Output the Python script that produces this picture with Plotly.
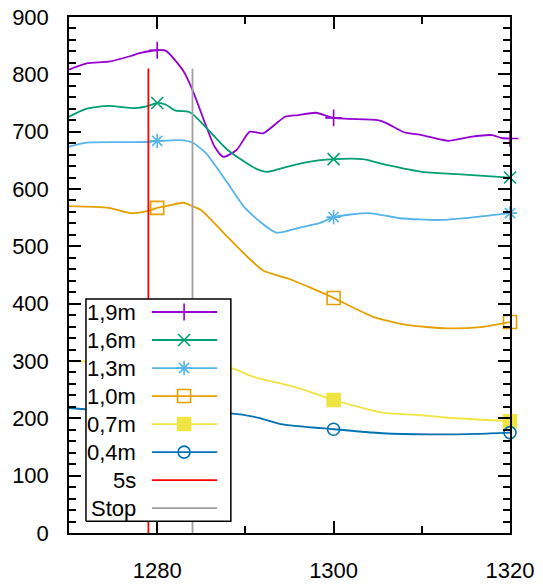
import plotly.graph_objects as go

# ---- data: probe readings against time (s) ----
t_19 = [1270, 1272, 1274.5, 1277, 1278, 1280, 1281, 1283, 1284, 1286.5, 1287.5, 1289, 1290.5,
        1292, 1294.5, 1296, 1298, 1300, 1305, 1306, 1308, 1310, 1313, 1315.5, 1318, 1319, 1320]
v_19 = [808, 819, 822, 832, 837, 842, 841, 805, 773, 674, 656, 668, 700,
        697, 726, 729, 733, 724, 720, 715, 699, 694, 684, 691, 694, 689, 688]

t_16 = [1270, 1272, 1274.5, 1277.5, 1279, 1280, 1281, 1282, 1283.5, 1284, 1285.5, 1288, 1291,
        1292.5, 1294.8, 1297, 1300, 1303.3, 1306, 1310, 1314, 1320]
v_16 = [726, 740, 745, 741, 745, 750, 747, 737, 735, 731, 708, 668, 637,
        630, 639, 647, 652, 652, 642, 630, 626, 620]

t_13 = [1270, 1272, 1279, 1280, 1283, 1284, 1285.5, 1288, 1290, 1293.5, 1296.5, 1298.5, 1300,
        1304, 1307.5, 1312, 1316, 1320]
v_13 = [674, 681, 682, 684, 685, 681, 663, 610, 566, 524, 534, 541, 551,
        558, 549, 546, 551, 558]

t_10 = [1270, 1274.5, 1277, 1279, 1280, 1281.5, 1283, 1284, 1285, 1288, 1290, 1292, 1295,
        1297.5, 1300, 1304.5, 1308.3, 1312.8, 1316.6, 1320]
v_10 = [570, 567, 558, 562, 567, 572, 576, 570, 563, 516, 485, 458, 443,
        427, 410, 377, 363, 357, 359, 368]

t_07 = [1270, 1275, 1280, 1285, 1288.5, 1291, 1295, 1297, 1300, 1305.5, 1309.5, 1313, 1320]
v_07 = [300, 298, 296, 292, 287, 272, 257, 248, 232, 210, 206, 201, 195]

t_04 = [1270, 1273, 1280, 1285, 1288, 1291.5, 1294, 1300, 1305.5, 1311, 1316.5, 1320]
v_04 = [218, 215, 212, 210, 209, 201, 190, 181, 174, 172, 173, 175]

mark_times = [1280, 1300, 1320]

labels = ["1,9m", "1,6m", "1,3m", "1,0m", "0,7m", "0,4m"]
colors = ["#9400D3", "#009E73", "#56B4E9", "#E69F00", "#F0E442", "#0072B2"]
symbols = ["cross-thin-open", "x-thin-open", "asterisk-open", "square-open", "square", "circle-open"]
sizes = [12, 12, 12, 13, 13, 12]

event_labels = ["5s", "Stop"]
event_times = [1279, 1284]
event_top = [810, 810]
event_colors = ["#FF0000", "#A0A0A0"]

series = [(t_19, v_19), (t_16, v_16), (t_13, v_13), (t_10, v_10), (t_07, v_07), (t_04, v_04)]

FONT = "Liberation Sans, Arial, sans-serif"
fig = go.Figure()

for (t, v), c, s, sz in zip(series, colors, symbols, sizes):
    fig.add_trace(go.Scatter(x=t, y=v, mode="lines", line=dict(color=c, width=1.8, shape="spline", smoothing=0.6),
                             showlegend=False, hoverinfo="skip"))
    mx = [ti for ti in t if ti in mark_times]
    my = [vi for ti, vi in zip(t, v) if ti in mark_times]
    fig.add_trace(go.Scatter(x=mx, y=my, mode="markers", cliponaxis=False,
                             marker=dict(symbol=s, size=sz, color=c, line=dict(color=c, width=1.6)),
                             showlegend=False, hoverinfo="skip"))

for et, top, c in zip(event_times, event_top, event_colors):
    fig.add_trace(go.Scatter(x=[et, et], y=[0, top], mode="lines", line=dict(color=c, width=1.8),
                             showlegend=False, hoverinfo="skip"))

# ---- key box drawn on an overlay axis (0..1 in both directions) ----
bx0, bx1, by0, by1 = 0.0385, 0.367, 0.023, 0.4535
fig.add_trace(go.Scatter(x=[bx0, bx1, bx1, bx0, bx0], y=[by0, by0, by1, by1, by0], mode="lines",
                         fill="toself", fillcolor="white", line=dict(color="black", width=1.5),
                         xaxis="x2", yaxis="y2", showlegend=False, hoverinfo="skip"))

row_y0, row_dy = 0.4283, 0.0543
sx0, sx1, sxm, tx = 0.188, 0.336, 0.261, 0.156
all_labels = labels + event_labels
all_colors = colors + event_colors
for i, (lab, c) in enumerate(zip(all_labels, all_colors)):
    yy = row_y0 - i * row_dy
    fig.add_trace(go.Scatter(x=[sx0, sx1], y=[yy, yy], mode="lines", line=dict(color=c, width=1.8),
                             xaxis="x2", yaxis="y2", showlegend=False, hoverinfo="skip"))
    if i < len(symbols):
        fig.add_trace(go.Scatter(x=[sxm], y=[yy], mode="markers",
                                 marker=dict(symbol=symbols[i], size=sizes[i], color=c,
                                             line=dict(color=c, width=1.6)),
                                 xaxis="x2", yaxis="y2", showlegend=False, hoverinfo="skip"))
    fig.add_annotation(x=tx, y=yy, xref="x2", yref="y2", text=lab, showarrow=False,
                       xanchor="right", yanchor="middle", font=dict(family=FONT, size=22, color="black"))

axis_common = dict(showline=True, linecolor="black", linewidth=1.5, mirror="ticks", ticks="inside",
                   tickcolor="black", tickwidth=1.5, ticklen=12, showgrid=False, zeroline=False,
                   automargin=False, tickfont=dict(family=FONT, size=22, color="black"))

fig.update_layout(
    width=543, height=586, margin=dict(l=69, r=33, t=17, b=53),
    plot_bgcolor="white", paper_bgcolor="white",
    xaxis=dict(range=[1270, 1320], tick0=1280, dtick=20, ticklabelstandoff=17,
               minor=dict(dtick=10, tick0=1270, ticks="inside", ticklen=7, tickcolor="black", tickwidth=1.5),
               **axis_common),
    yaxis=dict(range=[0, 900], dtick=100, ticklabelstandoff=14,
               minor=dict(dtick=20, ticks="inside", ticklen=7, tickcolor="black", tickwidth=1.5),
               **axis_common),
    xaxis2=dict(overlaying="x", range=[0, 1], visible=False, fixedrange=True),
    yaxis2=dict(overlaying="y", range=[0, 1], visible=False, fixedrange=True),
    showlegend=False,
)

fig.write_html("out.html")
